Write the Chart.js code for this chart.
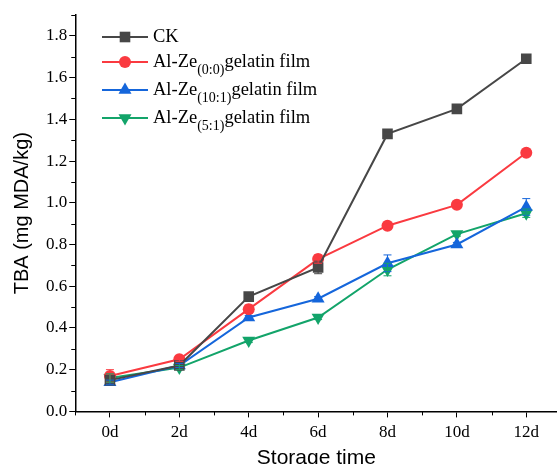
<!DOCTYPE html>
<html>
<head>
<meta charset="utf-8">
<script src="https://cdn.jsdelivr.net/npm/chart.js@4/dist/chart.umd.min.js"></script>
<style>
  html, body { margin: 0; padding: 0; background: #fff; overflow: hidden; }
  #wrap { width: 557px; height: 464px; overflow: hidden; }
</style>
</head>
<body>
<!-- canvas is a little wider than the view so the x axis runs to the right edge -->
<div id="wrap"><canvas id="tbaChart" width="565" height="464"></canvas></div>
<script>
// Storage days (x positions) and TBA values
const days = [0, 2, 4, 6, 8, 10, 12];
const ckValues = [0.15, 0.22, 0.55, 0.69, 1.33, 1.45, 1.69];
const ckErrors = [0.02, 0.01, 0.01, 0.03, 0.01, 0.01, 0.02];
const ze00Values = [0.17, 0.25, 0.49, 0.73, 0.89, 0.99, 1.24];
const ze00Errors = [0.03, 0.01, 0.02, 0.02, 0.01, 0.01, 0.01];
const ze101Values = [0.14, 0.22, 0.45, 0.54, 0.71, 0.80, 0.98];
const ze101Errors = [0.01, 0.01, 0.01, 0.01, 0.04, 0.01, 0.04];
const ze51Values = [0.16, 0.21, 0.34, 0.45, 0.68, 0.85, 0.95];
const ze51Errors = [0.02, 0.01, 0.01, 0.01, 0.03, 0.01, 0.02];

const seriesNames = ['CK', 'Al-Ze', 'Al-Ze', 'Al-Ze'];
const seriesSubs = ['', '(0:0)', '(10:1)', '(5:1)'];
const seriesTails = ['', 'gelatin film', 'gelatin film', 'gelatin film'];
const colors = ['#474747', '#fa3a40', '#1566db', '#13a46a'];

const serif = '"Liberation Serif", "Times New Roman", serif';
const sans = '"Liberation Sans", Arial, sans-serif';

function toPoints(vals) {
    return days.map((d, i) => ({ x: d, y: vals[i] }));
}

// Error bars drawn through the chart scales
const errorBarPlugin = {
    id: 'errorBars',
    afterDatasetsDraw(chart) {
        const ctx = chart.ctx;
        const xs = chart.scales.x, ys = chart.scales.y;
        chart.data.datasets.forEach(ds => {
            ctx.save();
            ctx.strokeStyle = ds.borderColor;
            ctx.lineWidth = 1;
            ds.data.forEach((p, i) => {
                const e = ds.errors[i];
                const px = xs.getPixelForValue(p.x);
                const top = ys.getPixelForValue(p.y + e);
                const bot = ys.getPixelForValue(p.y - e);
                ctx.beginPath();
                ctx.moveTo(px, top); ctx.lineTo(px, bot);
                ctx.moveTo(px - 4, top); ctx.lineTo(px + 4, top);
                ctx.moveTo(px - 4, bot); ctx.lineTo(px + 4, bot);
                ctx.stroke();
            });
            ctx.restore();
        });
    }
};

// Short minor ticks on both axes
const minorTickPlugin = {
    id: 'minorTicks',
    afterDraw(chart) {
        const ctx = chart.ctx;
        const xs = chart.scales.x, ys = chart.scales.y;
        ctx.save();
        ctx.strokeStyle = '#000';
        ctx.lineWidth = 1;
        ctx.beginPath();
        xs.ticks.forEach(t => {
            if (Math.abs(t.value % 2) === 1) {
                const px = Math.round(xs.getPixelForValue(t.value)) + 0.5;
                ctx.moveTo(px, xs.top); ctx.lineTo(px, xs.top + 4);
            }
        });
        ys.ticks.forEach(t => {
            if (Math.round(t.value * 10) % 2 === 1) {
                const py = Math.round(ys.getPixelForValue(t.value)) + 0.5;
                ctx.moveTo(ys.right, py); ctx.lineTo(ys.right - 4, py);
            }
        });
        ctx.stroke();
        ctx.restore();
    }
};

// Legend with subscripts, drawn inside the plot
const legendPlugin = {
    id: 'subLegend',
    afterDraw(chart) {
        const ctx = chart.ctx;
        const rows = [37, 62, 90, 118];
        ctx.save();
        chart.data.datasets.forEach((ds, i) => {
            const y = rows[i];
            ctx.strokeStyle = ds.borderColor;
            ctx.lineWidth = 2;
            ctx.beginPath();
            ctx.moveTo(102, y); ctx.lineTo(148, y);
            ctx.stroke();
            ctx.fillStyle = ds.borderColor;
            Chart.helpers.drawPoint(ctx, {
                pointStyle: ds.pointStyle,
                rotation: ds.pointRotation || 0,
                radius: ds.pointRadius,
                borderWidth: 0
            }, 125, y);
            // text
            ctx.fillStyle = '#000';
            ctx.textBaseline = 'middle';
            ctx.textAlign = 'left';
            ctx.font = '18.5px ' + serif;
            let x = 153;
            ctx.fillText(seriesNames[i], x, y);
            x += ctx.measureText(seriesNames[i]).width;
            if (seriesSubs[i]) {
                ctx.font = '14px ' + serif;
                ctx.fillText(seriesSubs[i], x, y + 8);
                x += ctx.measureText(seriesSubs[i]).width;
                ctx.font = '18.5px ' + serif;
                ctx.fillText(seriesTails[i], x, y);
            }
        });
        ctx.restore();
    }
};

const pointStyles = ['rect', 'circle', 'triangle', 'triangle'];
const pointRadii = [7.5, 6, 7.5, 7.5];
const pointRotations = [0, 0, 0, 180];
const valueSets = [ckValues, ze00Values, ze101Values, ze51Values];
const errorSets = [ckErrors, ze00Errors, ze101Errors, ze51Errors];

const datasets = valueSets.map((vals, i) => ({
    label: seriesNames[i] + seriesSubs[i] + seriesTails[i],
    data: toPoints(vals),
    errors: errorSets[i],
    borderColor: colors[i],
    backgroundColor: colors[i],
    borderWidth: 2,
    pointStyle: pointStyles[i],
    pointRadius: pointRadii[i],
    pointRotation: pointRotations[i],
    pointBorderWidth: 0,
    pointBackgroundColor: colors[i],
    tension: 0
}));

const isMajorX = v => Number.isInteger(v) && v % 2 === 0;

new Chart(document.getElementById('tbaChart'), {
    type: 'line',
    data: { datasets: datasets },
    plugins: [errorBarPlugin, minorTickPlugin, legendPlugin],
    options: {
        responsive: false,
        animation: false,
        layout: { padding: { top: 15, right: 0, left: 10, bottom: -7 } },
        plugins: {
            legend: { display: false },
            tooltip: { enabled: false }
        },
        scales: {
            x: {
                type: 'linear',
                min: -1,
                max: 12.9,
                afterBuildTicks: axis => {
                    const t = [];
                    for (let v = -1; v <= 12; v++) t.push({ value: v });
                    axis.ticks = t;
                },
                ticks: {
                    stepSize: 1,
                    autoSkip: false,
                    maxRotation: 0,
                    color: '#000',
                    padding: 5,
                    font: { family: serif, size: 17 },
                    callback: v => (isMajorX(v) && v >= 0) ? v + 'd' : ''
                },
                grid: {
                    drawOnChartArea: false,
                    drawTicks: true,
                    tickLength: 6,
                    tickColor: c => (c.tick && isMajorX(c.tick.value)) ? '#000' : 'rgba(0,0,0,0)'
                },
                border: { color: '#000', width: 1.5 },
                title: {
                    display: true,
                    text: 'Storage time',
                    color: '#000',
                    font: { family: sans, size: 21 },
                    padding: { top: -2, bottom: 0 }
                }
            },
            y: {
                min: 0,
                max: 1.9,
                ticks: {
                    stepSize: 0.1,
                    autoSkip: false,
                    color: '#000',
                    padding: 2,
                    font: { family: serif, size: 17 },
                    callback: v => (Math.round(v * 10) % 2 === 0) ? v.toFixed(1) : ''
                },
                grid: {
                    drawOnChartArea: false,
                    drawTicks: true,
                    tickLength: 6,
                    tickColor: c => (c.tick && Math.round(c.tick.value * 10) % 2 === 1) ? 'rgba(0,0,0,0)' : '#000'
                },
                border: { color: '#000', width: 1.5 },
                title: {
                    display: true,
                    text: 'TBA (mg MDA/kg)',
                    color: '#000',
                    font: { family: sans, size: 20 },
                    padding: { top: 0, bottom: 10 }
                }
            }
        }
    }
});
</script>
</body>
</html>
